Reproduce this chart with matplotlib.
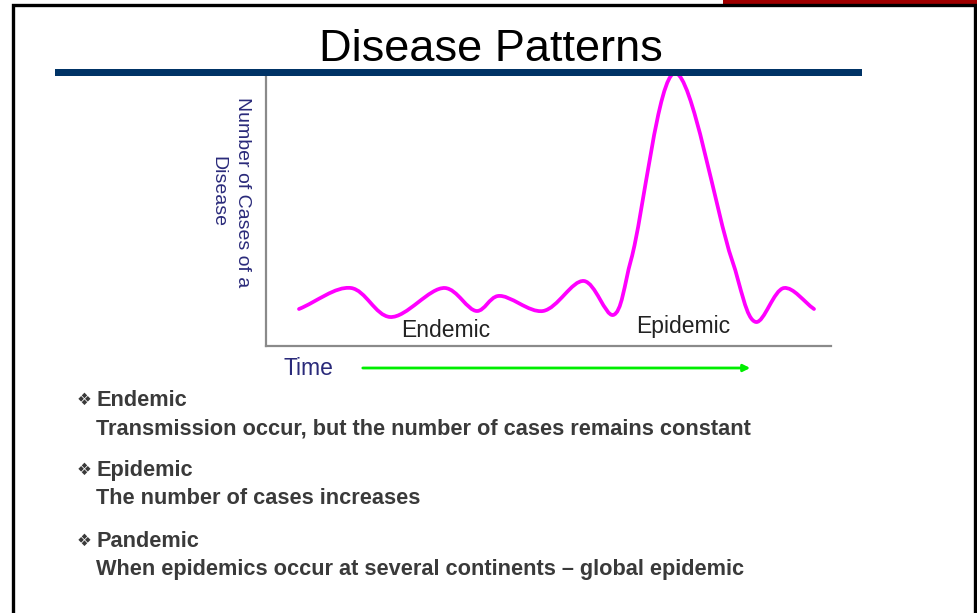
import numpy as np
import matplotlib
matplotlib.use("Agg")
import matplotlib.pyplot as plt
from matplotlib.path import Path
from matplotlib.patches import PathPatch, Rectangle, FancyArrowPatch
from matplotlib.lines import Line2D

# ---- data (time units, number of cases) ----
time_pts = [33, 85, 124, 179, 211, 232, 277, 318, 347, 365, 409, 466, 490, 518, 548]
cases = [37, 58, 29, 58, 35, 50, 35, 65, 31, 86, 273, 86, 24, 58, 37]
title = "Disease Patterns"
ylabel = "Number of Cases of a\nDisease"
xlabel = "Time"
region_labels = ["Endemic", "Epidemic"]
region_x = [180, 417]
bullets = [("Endemic", "Transmission occur, but the number of cases remains constant"),
           ("Epidemic", "The number of cases increases"),
           ("Pandemic", "When epidemics occur at several continents \u2013 global epidemic")]

W, H = 977, 613
fig = plt.figure(figsize=(W / 100, H / 100), dpi=100)
fig.patch.set_facecolor("white")
FONT = ["Liberation Sans", "DejaVu Sans"]

def fx(x):
    return x / W

def fy(y):
    return 1 - y / H

# chart axes
ax = fig.add_axes([fx(266), fy(346), 565 / W, (346 - 73) / H])
ax.set_xlim(0, 565)
ax.set_ylim(0, 273)
for s in ["top", "right"]:
    ax.spines[s].set_visible(False)
for s in ["left", "bottom"]:
    ax.spines[s].set_color("#8a8a8a")
    ax.spines[s].set_linewidth(1.6)
ax.set_xticks([])
ax.set_yticks([])
ax.patch.set_alpha(0)

# smooth curve through the points (centripetal Catmull-Rom -> cubic Bezier)
P = np.column_stack([time_pts, cases]).astype(float)
n = len(P)
alpha = 0.5
verts = [P[0]]
codes = [Path.MOVETO]
for i in range(n - 1):
    p1 = P[i]
    p2 = P[i + 1]
    d2 = np.linalg.norm(p2 - p1) ** alpha
    if i > 0:
        p0 = P[i - 1]
        d1 = np.linalg.norm(p1 - p0) ** alpha
        c1 = (d1 ** 2 * p2 - d2 ** 2 * p0 + (2 * d1 ** 2 + 3 * d1 * d2 + d2 ** 2) * p1) / (3 * d1 * (d1 + d2))
    else:
        c1 = p1 + (p2 - p1) / 3.0
    if i + 2 < n:
        p3 = P[i + 2]
        d3 = np.linalg.norm(p3 - p2) ** alpha
        c2 = (d3 ** 2 * p1 - d2 ** 2 * p3 + (2 * d3 ** 2 + 3 * d3 * d2 + d2 ** 2) * p2) / (3 * d3 * (d3 + d2))
    else:
        c2 = p2 - (p2 - p1) / 3.0
    verts += [c1, c2, p2]
    codes += [Path.CURVE4] * 3
path = Path(verts, codes)
ax.add_patch(PathPatch(path, facecolor="none", edgecolor="#FF00FF", lw=2.7,
                       capstyle="round", joinstyle="round", clip_on=False))

ax.text(region_x[0], 9, region_labels[0], ha="center", va="baseline",
        fontsize=16.5, color="#222222", family=FONT)
ax.text(region_x[1], 13, region_labels[1], ha="center", va="baseline",
        fontsize=16.5, color="#222222", family=FONT)

# y label
fig.text(fx(230), fy(192), ylabel, rotation=-90, ha="center", va="center",
         multialignment="center", fontsize=14, color="#2a2a7a", family=FONT,
         linespacing=1.6)
# x label + arrow
fig.text(fx(284), fy(375), xlabel, ha="left", va="baseline", fontsize=16.5,
         color="#2a2a7a", family=FONT)
fig.add_artist(FancyArrowPatch(
    (fx(360), fy(368)), (fx(753), fy(368)), transform=fig.transFigure,
    arrowstyle="-|>,head_length=4,head_width=2", color="#00EE00", lw=2))

# title and blue bar
fig.text(fx(491), fy(61), title, ha="center", va="baseline", fontsize=32.5,
         color="black", family=FONT)
fig.add_artist(Rectangle((fx(55), fy(76)), (862 - 55) / W, 7 / H,
                         transform=fig.transFigure, facecolor="#003366",
                         edgecolor="none", zorder=3))

# bullet list
bl_base = [406, 476, 547]
for (head, body), yb in zip(bullets, bl_base):
    fig.text(fx(77), fy(yb - 1), "\u2756", ha="left", va="baseline",
             fontsize=12, color="#3a3a3a", family=FONT)
    fig.text(fx(96), fy(yb), head, ha="left", va="baseline",
             fontsize=15.7, fontweight="bold", color="#3a3a3a", family=FONT)
    fig.text(fx(96), fy(yb + 28), body, ha="left", va="baseline",
             fontsize=15.7, fontweight="bold", color="#3a3a3a", family=FONT)

# slide frame
fig.add_artist(Rectangle((fx(723), fy(3.5)), (W - 723) / W, 3.5 / H,
                         transform=fig.transFigure, facecolor="#A00000",
                         edgecolor="none", zorder=3))
fig.add_artist(Rectangle((fx(975), fy(74)), 2 / W, 74 / H,
                         transform=fig.transFigure, facecolor="#A00000",
                         edgecolor="none", zorder=3))
fig.add_artist(Line2D([fx(13), fx(13), fx(974.5), fx(974.5)],
                      [fy(H + 2), fy(5), fy(5), fy(H + 2)],
                      transform=fig.transFigure, color="black", lw=2.4,
                      solid_joinstyle="miter", zorder=4))

fig.savefig("out.png", dpi=100, facecolor="white")
